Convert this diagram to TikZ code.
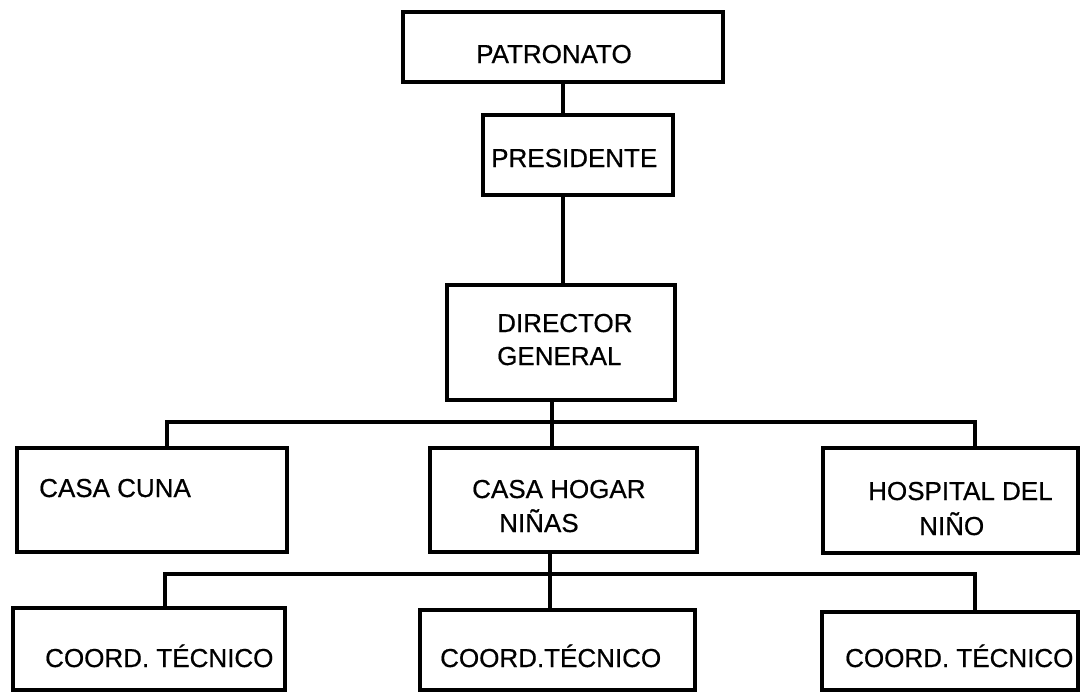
\documentclass[tikz,border=0pt]{standalone}
\usepackage{fontspec}
\setmainfont[FakeBold=0.6]{Liberation Sans}
\begin{document}
\begin{tikzpicture}[x=1pt,y=-1pt,
  box/.style={draw=black, line width=3.4pt, rectangle, inner sep=0pt, fill=none},
  lbl/.style={inner sep=0pt, anchor=base west, font=\fontsize{26}{30}\selectfont},
  conn/.style={draw=black, line width=3.2pt}]
\useasboundingbox (0,0) rectangle (1080,694);
% boxes
\node[box, minimum width=320pt, minimum height=70pt] (pat) at (563,47) {};
\node[box, minimum width=190pt, minimum height=80pt] (pres) at (578,155) {};
\node[box, minimum width=228pt, minimum height=115pt] (dir) at (561,342.5) {};
\node[box, minimum width=270pt, minimum height=104pt] (cuna) at (152,500) {};
\node[box, minimum width=267pt, minimum height=104pt] (hogar) at (563.5,500) {};
\node[box, minimum width=255pt, minimum height=105pt] (hosp) at (950.5,500.5) {};
\node[box, minimum width=272pt, minimum height=82pt] (c1) at (149,649) {};
\node[box, minimum width=275pt, minimum height=80pt] (c2) at (557.5,650) {};
\node[box, minimum width=256pt, minimum height=78pt] (c3) at (950,651) {};
% texts
\node[lbl] (tpat) at (476,63) {PATRONATO};
\node[lbl] (tpres) at (491,167) {PRESIDENTE};
\node[lbl] (tdir1) at (497,332) {DIRECTOR};
\node[lbl] (tdir2) at (497,365) {GENERAL};
\node[lbl] (tcuna) at (39,497) {CASA CUNA};
\node[lbl] (thog1) at (472,498) {CASA HOGAR};
\node[lbl] (thog2) at (499,532) {NIÑAS};
\node[lbl] (thos1) at (868,500) {HOSPITAL DEL};
\node[lbl] (thos2) at (919,535) {NIÑO};
\node[lbl] (tc1) at (45,667) {COORD. TÉCNICO};
\node[lbl] (tc2) at (440,667) {COORD.TÉCNICO};
\node[lbl] (tc3) at (845,667) {COORD. TÉCNICO};
% bus coordinates
\coordinate (b1l) at (167,422);
\coordinate (b1m) at (552,422);
\coordinate (b1r) at (975,422);
\coordinate (b2l) at (165,574);
\coordinate (b2m) at (550,574);
\coordinate (b2r) at (975,574);
% connectors
\draw[conn] (pat.south) -- (pat.south |- pres.north);
\draw[conn] (pat.south |- pres.south) -- (pat.south |- dir.north);
\draw[conn] (dir.south -| b1m) -- (hogar.north -| b1m);
\draw[conn] (cuna.north -| b1l) -- (b1l) -- (b1r) -- (hosp.north -| b1r);
\draw[conn] (hogar.south -| b2m) -- (c2.north -| b2m);
\draw[conn] (c1.north -| b2l) -- (b2l) -- (b2r) -- (c3.north -| b2r);
\end{tikzpicture}
\end{document}
